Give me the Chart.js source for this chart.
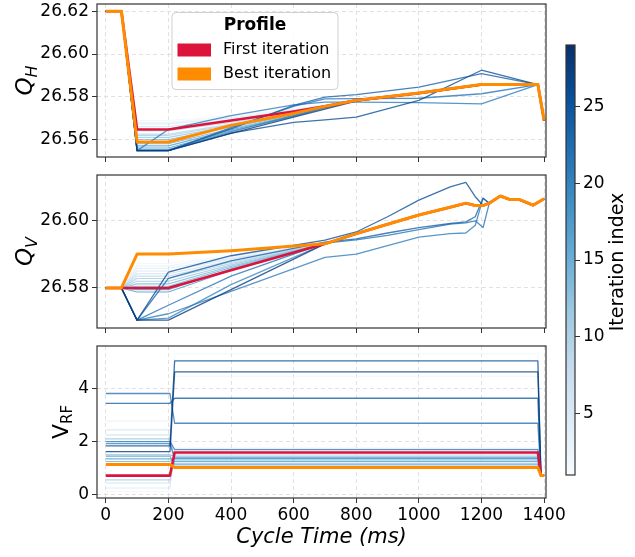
<!DOCTYPE html>
<html>
<head>
<meta charset="utf-8">
<script src="https://cdn.jsdelivr.net/npm/chart.js@4/dist/chart.umd.min.js"></script>
<style>
  html, body { margin: 0; padding: 0; background: #fff; }
  #wrap { position: relative; width: 635px; height: 557px; background: #fff; overflow: hidden; }
  canvas { position: absolute; }
</style>
</head>
<body>
<div id="wrap">
  <canvas id="c1" width="635" height="170" style="left:0;top:0"></canvas>
  <canvas id="c2" width="635" height="170" style="left:0;top:170px"></canvas>
  <canvas id="c3" width="635" height="217" style="left:0;top:340px"></canvas>
  <canvas id="c4" width="95" height="557" style="left:540px;top:0"></canvas>
</div>
<script>
// ---------------- axis ticks / ranges ----------------
const xTicks = [0, 200, 400, 600, 800, 1000, 1200, 1400];
const xRange = [-28, 1406];
const qhTicks = [26.56, 26.58, 26.60, 26.62];
const qhRange = [26.5518, 26.6234];
const qvTicks = [26.58, 26.60];
const qvRange = [26.5682, 26.6133];
const vTicks = [0, 2, 4];
const vRange = [-0.124, 5.597];
const cbTicks = [5, 10, 15, 20, 25];
const cbRange = [1, 29];

// ---------------- time grids (ms) ----------------
const tQH = [0, 50, 100, 200, 400, 600, 700, 800, 1000, 1200, 1380, 1400];
const tQV = [0, 50, 100, 200, 400, 700, 800, 900, 1000, 1100, 1150, 1180, 1205, 1225, 1260, 1290, 1320, 1365, 1400];
const tV  = [0, 205, 220, 1380, 1390, 1400];

// iteration indices of the blue profiles
const iterIdx = [2, 3, 5, 6, 8, 9, 11, 12, 14, 15, 17, 18, 20, 21, 22, 24, 26, 28];

// ---------------- Q_H ----------------
const qhBest  = [26.62, 26.62, 26.5588, 26.5588, 26.5666, 26.5722, 26.5755, 26.5783, 26.5817, 26.5857, 26.5857, 26.5689];
const qhFirst = [26.62, 26.62, 26.5647, 26.5647, 26.5689, 26.5731, 26.5755, 26.5783, 26.5817, 26.5857, 26.5857, 26.5689];
const qhIter = [
  [26.62, 26.62, 26.5689, 26.5689, 26.5712, 26.5745, 26.5762, 26.5783, 26.5817, 26.5857, 26.5857, 26.5689],
  [26.62, 26.62, 26.5680, 26.5680, 26.5706, 26.5742, 26.5760, 26.5783, 26.5817, 26.5857, 26.5857, 26.5689],
  [26.62, 26.62, 26.5673, 26.5673, 26.5700, 26.5738, 26.5758, 26.5783, 26.5817, 26.5857, 26.5857, 26.5689],
  [26.62, 26.62, 26.5660, 26.5660, 26.5692, 26.5734, 26.5756, 26.5783, 26.5817, 26.5857, 26.5857, 26.5689],
  [26.62, 26.62, 26.5640, 26.5640, 26.5680, 26.5728, 26.5755, 26.5783, 26.5817, 26.5857, 26.5857, 26.5689],
  [26.62, 26.62, 26.5625, 26.5625, 26.5672, 26.5724, 26.5754, 26.5783, 26.5817, 26.5857, 26.5857, 26.5689],
  [26.62, 26.62, 26.5619, 26.5619, 26.5668, 26.5722, 26.5754, 26.5783, 26.5817, 26.5857, 26.5857, 26.5689],
  [26.62, 26.62, 26.5610, 26.5610, 26.5662, 26.5718, 26.5752, 26.5783, 26.5817, 26.5857, 26.5857, 26.5689],
  [26.62, 26.62, 26.5600, 26.5600, 26.5658, 26.5715, 26.5750, 26.5783, 26.5817, 26.5857, 26.5857, 26.5689],
  [26.62, 26.62, 26.5580, 26.5580, 26.5650, 26.5712, 26.5750, 26.5783, 26.5817, 26.5857, 26.5857, 26.5689],
  [26.62, 26.62, 26.5570, 26.5570, 26.5645, 26.5710, 26.5748, 26.5783, 26.5817, 26.5857, 26.5857, 26.5689],
  [26.62, 26.62, 26.5560, 26.5560, 26.5640, 26.5708, 26.5748, 26.5783, 26.5817, 26.5857, 26.5857, 26.5689],
  [26.62, 26.62, 26.5552, 26.5552, 26.5635, 26.5712, 26.5750, 26.5782, 26.5816, 26.5856, 26.5857, 26.5689],
  [26.62, 26.62, 26.5548, 26.5647, 26.5712, 26.5762, 26.5775, 26.5775, 26.5772, 26.5767, 26.5857, 26.5689],
  [26.62, 26.62, 26.5548, 26.5548, 26.5655, 26.5755, 26.5790, 26.5791, 26.5793, 26.5814, 26.5857, 26.5689],
  [26.62, 26.62, 26.5548, 26.5548, 26.5650, 26.5760, 26.5798, 26.5810, 26.5845, 26.5908, 26.5857, 26.5689],
  [26.62, 26.62, 26.5548, 26.5548, 26.5630, 26.5680, 26.5692, 26.5705, 26.5783, 26.5924, 26.5857, 26.5689],
  [26.62, 26.62, 26.5548, 26.5548, 26.5628, 26.5705, 26.5742, 26.5780, 26.5815, 26.5855, 26.5857, 26.5689]
];

// ---------------- Q_V ----------------
const qvBest  = [26.58, 26.58, 26.5900, 26.5900, 26.5910, 26.5930, 26.5960, 26.5988, 26.6015, 26.6038, 26.6050, 26.6043, 26.6043, 26.6050, 26.6071, 26.6061, 26.6061, 26.6044, 26.6063];
const qvFirst = [26.58, 26.58, 26.5800, 26.5800, 26.5852, 26.5930, 26.5960, 26.5988, 26.6015, 26.6038, 26.6050, 26.6043, 26.6043, 26.6050, 26.6071, 26.6061, 26.6061, 26.6044, 26.6063];
const qvIter = [
  [26.58, 26.58, 26.5872, 26.5872, 26.5895, 26.5930, 26.5960, 26.5988, 26.6015, 26.6038, 26.6050, 26.6043, 26.6043, 26.6050, 26.6071, 26.6061, 26.6061, 26.6044, 26.6063],
  [26.58, 26.58, 26.5865, 26.5865, 26.5892, 26.5930, 26.5960, 26.5988, 26.6015, 26.6038, 26.6050, 26.6043, 26.6043, 26.6050, 26.6071, 26.6061, 26.6061, 26.6044, 26.6063],
  [26.58, 26.58, 26.5858, 26.5858, 26.5888, 26.5930, 26.5960, 26.5988, 26.6015, 26.6038, 26.6050, 26.6043, 26.6043, 26.6050, 26.6071, 26.6061, 26.6061, 26.6044, 26.6063],
  [26.58, 26.58, 26.5850, 26.5850, 26.5885, 26.5930, 26.5960, 26.5988, 26.6015, 26.6038, 26.6050, 26.6043, 26.6043, 26.6050, 26.6071, 26.6061, 26.6061, 26.6044, 26.6063],
  [26.58, 26.58, 26.5842, 26.5842, 26.5880, 26.5930, 26.5960, 26.5988, 26.6015, 26.6038, 26.6050, 26.6043, 26.6043, 26.6050, 26.6071, 26.6061, 26.6061, 26.6044, 26.6063],
  [26.58, 26.58, 26.5835, 26.5835, 26.5876, 26.5930, 26.5960, 26.5988, 26.6015, 26.6038, 26.6050, 26.6043, 26.6043, 26.6050, 26.6071, 26.6061, 26.6061, 26.6044, 26.6063],
  [26.58, 26.58, 26.5828, 26.5828, 26.5872, 26.5930, 26.5960, 26.5988, 26.6015, 26.6038, 26.6050, 26.6043, 26.6043, 26.6050, 26.6071, 26.6061, 26.6061, 26.6044, 26.6063],
  [26.58, 26.58, 26.5820, 26.5820, 26.5868, 26.5930, 26.5960, 26.5988, 26.6015, 26.6038, 26.6050, 26.6043, 26.6043, 26.6050, 26.6071, 26.6061, 26.6061, 26.6044, 26.6063],
  [26.58, 26.58, 26.5812, 26.5812, 26.5864, 26.5930, 26.5960, 26.5988, 26.6015, 26.6038, 26.6050, 26.6043, 26.6043, 26.6050, 26.6071, 26.6061, 26.6061, 26.6044, 26.6063],
  [26.58, 26.58, 26.5805, 26.5805, 26.5860, 26.5930, 26.5960, 26.5988, 26.6015, 26.6038, 26.6050, 26.6043, 26.6043, 26.6050, 26.6071, 26.6061, 26.6061, 26.6044, 26.6063],
  [26.58, 26.58, 26.5795, 26.5795, 26.5856, 26.5930, 26.5960, 26.5988, 26.6015, 26.6038, 26.6050, 26.6043, 26.6043, 26.6050, 26.6071, 26.6061, 26.6061, 26.6044, 26.6063],
  [26.58, 26.58, 26.5788, 26.5788, 26.5852, 26.5930, 26.5960, 26.5988, 26.6015, 26.6038, 26.6050, 26.6043, 26.6043, 26.6050, 26.6071, 26.6061, 26.6061, 26.6044, 26.6063],
  [26.58, 26.58, 26.5705, 26.5711, 26.5810, 26.5930, 26.5960, 26.5988, 26.6015, 26.6038, 26.6050, 26.6043, 26.6043, 26.6050, 26.6071, 26.6061, 26.6061, 26.6044, 26.6063],
  [26.58, 26.58, 26.5705, 26.5724, 26.5790, 26.5890, 26.5900, 26.5925, 26.5950, 26.5960, 26.5962, 26.5985, 26.6064, 26.6050, 26.6071, 26.6061, 26.6061, 26.6044, 26.6063],
  [26.58, 26.58, 26.5705, 26.5749, 26.5835, 26.5932, 26.5942, 26.5955, 26.5972, 26.5988, 26.5992, 26.5998, 26.5978, 26.6050, 26.6071, 26.6061, 26.6061, 26.6044, 26.6063],
  [26.58, 26.58, 26.5705, 26.5828, 26.5880, 26.5935, 26.5945, 26.5962, 26.5978, 26.5990, 26.5995, 26.6010, 26.6065, 26.6050, 26.6071, 26.6061, 26.6061, 26.6044, 26.6063],
  [26.58, 26.58, 26.5705, 26.5847, 26.5895, 26.5941, 26.5965, 26.6010, 26.6059, 26.6098, 26.6111, 26.6069, 26.6043, 26.6050, 26.6071, 26.6061, 26.6061, 26.6044, 26.6063],
  [26.58, 26.58, 26.5705, 26.5705, 26.5795, 26.5930, 26.5960, 26.5988, 26.6015, 26.6038, 26.6050, 26.6043, 26.6043, 26.6050, 26.6071, 26.6061, 26.6061, 26.6044, 26.6063]
];

// ---------------- V_RF ----------------
const vBest  = [1.14, 1.14, 1.02, 1.02, 0.72, 0.72];
const vFirst = [0.72, 0.72, 1.59, 1.59, 0.72, 0.72];
const vIter = [
  [0.12, 0.12, 5.31, 5.31, 0.72, 0.72],
  [2.77, 2.77, 4.46, 4.46, 0.72, 0.72],
  [0.25, 0.25, 1.75, 1.75, 0.72, 0.72],
  [2.44, 2.44, 1.20, 1.20, 0.72, 0.72],
  [0.44, 0.44, 1.50, 1.50, 0.72, 0.72],
  [2.25, 2.25, 1.10, 1.10, 0.72, 0.72],
  [0.56, 0.56, 1.40, 1.40, 0.72, 0.72],
  [2.10, 2.10, 1.30, 1.30, 0.72, 0.72],
  [1.50, 1.50, 1.45, 1.45, 0.72, 0.72],
  [1.25, 1.25, 1.35, 1.35, 0.72, 0.72],
  [1.35, 1.35, 1.25, 1.25, 0.72, 0.72],
  [1.45, 1.45, 1.15, 1.15, 0.72, 0.72],
  [1.92, 1.92, 1.38, 1.38, 0.72, 0.72],
  [2.00, 2.00, 1.70, 1.70, 0.72, 0.72],
  [3.81, 3.81, 2.69, 2.69, 0.72, 0.72],
  [3.44, 3.44, 3.63, 3.63, 0.72, 0.72],
  [1.84, 1.84, 5.04, 5.04, 0.72, 0.72],
  [1.62, 1.62, 4.62, 4.62, 0.72, 0.72]
];

const seriesNames = ['Best iteration', 'First iteration'];
const legendTitle = 'Profile';

// ---------------- styling ----------------
const ORANGE = '#ff8c00';
const RED = '#dc143c';
const GRID = '#dedede';
const SPINE = '#333333';
const FONT = "'DejaVu Sans', sans-serif";
const BLUES = ['#f7fbff', '#deebf7', '#c6dbef', '#9ecae1', '#6baed6', '#4292c6', '#2171b5', '#08519c', '#08306b'];

Chart.defaults.font.family = FONT;
Chart.defaults.color = '#000';

function hexRgb(h) { return [1, 3, 5].map(i => parseInt(h.substr(i, 2), 16)); }
function blues(t) {
  t = Math.max(0, Math.min(1, t));
  const p = t * (BLUES.length - 1);
  const i = Math.min(Math.floor(p), BLUES.length - 2);
  const f = p - i;
  const a = hexRgb(BLUES[i]), b = hexRgb(BLUES[i + 1]);
  return a.map((v, k) => Math.round(v + (b[k] - v) * f));
}
function iterColor(idx, alpha) {
  const c = blues((idx - cbRange[0]) / (cbRange[1] - cbRange[0]));
  return `rgba(${c[0]},${c[1]},${c[2]},${alpha})`;
}
function pts(t, v) { return t.map((x, i) => ({ x: x, y: v[i] })); }

function makeDatasets(t, best, first, iters) {
  const ds = [
    { label: seriesNames[0], data: pts(t, best), borderColor: ORANGE, borderWidth: 3 },
    { label: seriesNames[1], data: pts(t, first), borderColor: RED, borderWidth: 2.6 }
  ];
  for (let k = iterIdx.length - 1; k >= 0; k--) {
    ds.push({ label: 'Iteration ' + iterIdx[k], data: pts(t, iters[k]),
      borderColor: iterColor(iterIdx[k], 0.78), borderWidth: iterIdx[k] >= 20 ? 1.3 : 1.1 });
  }
  return ds.map(d => Object.assign({ pointRadius: 0, tension: 0, fill: false, borderJoinStyle: 'round' }, d));
}

function gridOpts() {
  return { color: GRID, lineWidth: 0.9, drawTicks: true, tickLength: 5, tickColor: SPINE, tickWidth: 1, tickBorderDash: [] };
}

function xScale(h, showLabels, title) {
  const s = {
    type: 'linear', min: xRange[0], max: xRange[1],
    afterBuildTicks: sc => { sc.ticks = xTicks.map(v => ({ value: v })); },
    afterFit: sc => { sc.height = h; sc.paddingLeft = 0; sc.paddingRight = 0; },
    grid: gridOpts(),
    border: { display: false, dash: [4, 3] },
    ticks: { display: showLabels, font: { size: 17 }, color: '#000', padding: 2, maxRotation: 0, autoSkip: false, callback: v => String(v) }
  };
  if (title) s.title = { display: true, text: title, font: { size: 21, style: 'italic' }, color: '#000', padding: { top: 0, bottom: 7 } };
  return s;
}
function yScale(range, ticks, fmt) {
  return {
    type: 'linear', min: range[0], max: range[1],
    afterBuildTicks: sc => { sc.ticks = ticks.map(v => ({ value: v })); },
    afterFit: sc => { sc.width = 97; sc.paddingTop = 0; sc.paddingBottom = 0; },
    grid: gridOpts(),
    border: { display: false, dash: [4, 3] },
    ticks: { font: { size: 17 }, color: '#000', padding: 3, callback: fmt }
  };
}

// ---------------- plugins ----------------
const framePlugin = {
  id: 'frame',
  afterDraw(chart) {
    const { ctx, chartArea: a } = chart;
    ctx.save();
    ctx.strokeStyle = SPINE; ctx.lineWidth = 1.2;
    ctx.strokeRect(a.left, a.top, a.right - a.left, a.bottom - a.top);
    ctx.restore();
  }
};

const ylabPlugin = {
  id: 'ylab',
  afterDraw(chart, args, o) {
    if (!o || !o.main) return;
    const { ctx, chartArea: a } = chart;
    const cy = (a.top + a.bottom) / 2;
    ctx.save();
    ctx.translate(o.x, cy);
    ctx.rotate(-Math.PI / 2);
    ctx.fillStyle = '#000';
    ctx.textBaseline = 'alphabetic';
    ctx.textAlign = 'left';
    const mf = `${o.mainStyle} ${o.mainSize}px ${FONT}`;
    const sf = `${o.subStyle} ${o.subSize}px ${FONT}`;
    ctx.font = mf; const w1 = ctx.measureText(o.main).width;
    ctx.font = sf; const w2 = ctx.measureText(o.sub).width;
    const x0 = -(w1 + w2) / 2;
    ctx.font = mf; ctx.fillText(o.main, x0, 0);
    ctx.font = sf; ctx.fillText(o.sub, x0 + w1 + (o.gap || 0), o.shift);
    ctx.restore();
  }
};

const legendPlugin = {
  id: 'profileLegend',
  afterDraw(chart, args, o) {
    const ctx = chart.ctx;
    const ds = chart.data.datasets;
    ctx.save();
    const x = 172, y = 12.5, w = 166, h = 77, r = 4;
    ctx.beginPath();
    ctx.moveTo(x + r, y); ctx.lineTo(x + w - r, y); ctx.quadraticCurveTo(x + w, y, x + w, y + r);
    ctx.lineTo(x + w, y + h - r); ctx.quadraticCurveTo(x + w, y + h, x + w - r, y + h);
    ctx.lineTo(x + r, y + h); ctx.quadraticCurveTo(x, y + h, x, y + h - r);
    ctx.lineTo(x, y + r); ctx.quadraticCurveTo(x, y, x + r, y);
    ctx.closePath();
    ctx.fillStyle = 'rgba(255,255,255,0.85)'; ctx.fill();
    ctx.strokeStyle = '#d0d0d0'; ctx.lineWidth = 1; ctx.stroke();
    ctx.fillStyle = '#000';
    ctx.font = `bold 17px ${FONT}`;
    ctx.textAlign = 'center'; ctx.textBaseline = 'middle';
    ctx.fillText(o.title, x + w / 2, 26);
    const items = [ds[1], ds[0]];
    const ys = [50, 74];
    ctx.textAlign = 'left';
    ctx.font = `16px ${FONT}`;
    items.forEach((d, i) => {
      ctx.fillStyle = d.borderColor;
      ctx.fillRect(177.5, ys[i] - 6.5, 33.5, 13);
      ctx.fillStyle = '#000';
      ctx.fillText(d.label, 223, ys[i]);
    });
    ctx.restore();
  }
};

const cbLabelPlugin = {
  id: 'cbLabel',
  afterDraw(chart, args, o) {
    const { ctx, chartArea: a } = chart;
    ctx.save();
    ctx.translate(o.x, (a.top + a.bottom) / 2 + 2);
    ctx.rotate(-Math.PI / 2);
    ctx.fillStyle = '#000';
    ctx.font = `19px ${FONT}`;
    ctx.textAlign = 'center'; ctx.textBaseline = 'alphabetic';
    ctx.fillText(o.text, 0, 0);
    ctx.restore();
  }
};

function baseOptions(padding) {
  return { responsive: false, animation: false, devicePixelRatio: 1, events: [], layout: { padding: padding } };
}

// ---------------- chart 1 : Q_H ----------------
new Chart(document.getElementById('c1'), {
  type: 'line',
  data: { datasets: makeDatasets(tQH, qhBest, qhFirst, qhIter) },
  options: Object.assign(baseOptions({ left: 0, right: 89, top: 4, bottom: 0 }), {
    scales: { x: xScale(13, false), y: yScale(qhRange, qhTicks, v => v.toFixed(2)) },
    plugins: {
      legend: { display: false }, tooltip: { enabled: false },
      ylab: { main: 'Q', sub: 'H', x: 32, mainStyle: 'italic', subStyle: 'italic', mainSize: 23, subSize: 16, shift: 5 },
      profileLegend: { title: legendTitle }
    }
  }),
  plugins: [framePlugin, ylabPlugin, legendPlugin]
});

// ---------------- chart 2 : Q_V ----------------
new Chart(document.getElementById('c2'), {
  type: 'line',
  data: { datasets: makeDatasets(tQV, qvBest, qvFirst, qvIter) },
  options: Object.assign(baseOptions({ left: 0, right: 89, top: 5, bottom: 0 }), {
    scales: { x: xScale(12, false), y: yScale(qvRange, qvTicks, v => v.toFixed(2)) },
    plugins: {
      legend: { display: false }, tooltip: { enabled: false },
      ylab: { main: 'Q', sub: 'V', x: 32, mainStyle: 'italic', subStyle: 'italic', mainSize: 23, subSize: 16, shift: 5 }
    }
  }),
  plugins: [framePlugin, ylabPlugin]
});

// ---------------- chart 3 : V_RF ----------------
new Chart(document.getElementById('c3'), {
  type: 'line',
  data: { datasets: makeDatasets(tV, vBest, vFirst, vIter) },
  options: Object.assign(baseOptions({ left: 0, right: 89, top: 6, bottom: 0 }), {
    scales: { x: xScale(59, true, 'Cycle Time (ms)'), y: yScale(vRange, vTicks, v => String(v)) },
    plugins: {
      legend: { display: false }, tooltip: { enabled: false },
      ylab: { main: 'V', sub: 'RF', x: 68, mainStyle: 'normal', subStyle: 'normal', mainSize: 22, subSize: 15, shift: 4 }
    }
  }),
  plugins: [framePlugin, ylabPlugin]
});

// ---------------- colorbar ----------------
function cbGradient(chart) {
  const a = chart.chartArea;
  if (!a) return BLUES[4];
  const g = chart.ctx.createLinearGradient(0, a.bottom, 0, a.top);
  BLUES.forEach((c, i) => g.addColorStop(i / (BLUES.length - 1), c));
  return g;
}
new Chart(document.getElementById('c4'), {
  type: 'bar',
  data: { labels: ['Iteration index'], datasets: [{ data: [cbRange], backgroundColor: c => cbGradient(c.chart), borderWidth: 0, barPercentage: 1, categoryPercentage: 1 }] },
  options: Object.assign(baseOptions({ left: 26, right: 0, top: 45, bottom: 82 }), {
    scales: {
      x: { display: false },
      y: {
        position: 'right', min: cbRange[0], max: cbRange[1],
        afterBuildTicks: sc => { sc.ticks = cbTicks.map(v => ({ value: v })); },
        afterFit: sc => { sc.width = 60; sc.paddingTop = 0; sc.paddingBottom = 0; },
        grid: { drawOnChartArea: false, drawTicks: true, tickLength: 5, tickColor: SPINE, tickWidth: 1 },
        border: { display: false },
        ticks: { font: { size: 17 }, color: '#000', padding: 3, callback: v => String(v) }
      }
    },
    plugins: { legend: { display: false }, tooltip: { enabled: false }, cbLabel: { x: 83, text: 'Iteration index' } }
  }),
  plugins: [framePlugin, cbLabelPlugin]
});
</script>
</body>
</html>
